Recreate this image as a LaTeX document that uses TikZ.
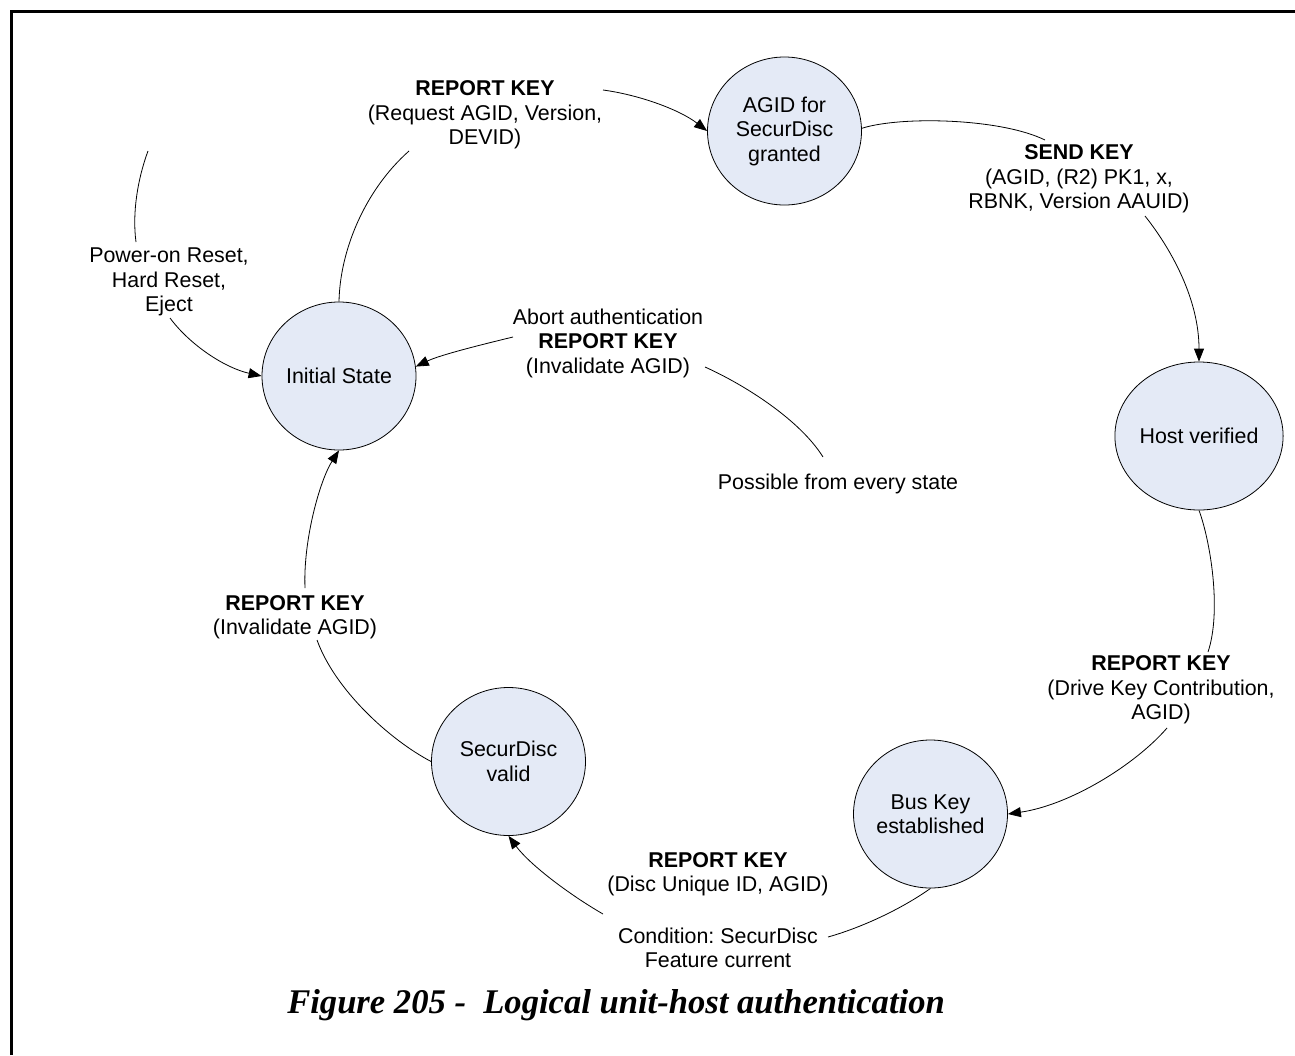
\documentclass[tikz,border=0pt]{standalone}
\usepackage{fontspec}
\setmainfont{Liberation Sans}
\newfontfamily\capfont{Liberation Serif}
\usetikzlibrary{arrows.meta,shapes.geometric}
\definecolor{statefill}{RGB}{228,234,246}
\newcommand\lblfont{\fontsize{21.4}{24.5}\selectfont}
\frenchspacing
\begin{document}
\begin{tikzpicture}[x=1pt,y=-1pt,
  stnode/.style={ellipse,draw=black,line width=0.8pt,fill=statefill,minimum width=154pt,minimum height=148pt,inner sep=0pt,align=center,font=\lblfont},
  lbl/.style={align=center,inner sep=0pt,font=\lblfont},
  conn/.style={line width=0.8pt,draw=black},
  arr/.style={conn,-{Triangle[length=13pt,width=10pt]}}]
\useasboundingbox (0,0) rectangle (1295,1055);
\fill[white] (0,0) rectangle (1295,1055);
\draw[line width=3pt] (11.5,1055) -- (11.5,11.5) -- (1295,11.5);

% states
\node[stnode] (init)  at (339,376)   {Initial State};
\node[stnode] (agid)  at (784.5,131) {AGID for\\SecurDisc\\granted};
\node[stnode] (host)  at (1199,436)  {Host verified};
\node[stnode] (bus)   at (930.5,814) {Bus Key\\established};
\node[stnode] (valid) at (508.5,761.5) {SecurDisc\\valid};

% labels
\node[lbl] (l1) at (485,115) {\textbf{REPORT KEY}\\(Request AGID, Version,\\DEVID)};
\node[lbl] (l2) at (1079,179) {\textbf{SEND KEY}\\(AGID, (R2) PK1, x,\\RBNK, Version AAUID)};
\node[lbl] (l3) at (169,282) {Power-on Reset,\\Hard Reset,\\Eject};
\node[lbl] (l4) at (608,343) {Abort authentication\\\textbf{REPORT KEY}\\(Invalidate AGID)};
\node[lbl] (l5) at (838,484) {Possible from every state};
\node[lbl] (l6) at (1161,690) {\textbf{REPORT KEY}\\(Drive Key Contribution,\\AGID)};
\node[lbl] (l7) at (295,617) {\textbf{REPORT KEY}\\(Invalidate AGID)};
\node[lbl] (l8) at (718,874) {\textbf{REPORT KEY}\\(Disc Unique ID, AGID)};
\node[lbl] (l9) at (718,948) {Condition: SecurDisc\\Feature current};
\node[anchor=base,inner sep=0pt,font=\capfont\bfseries\itshape\fontsize{34.6}{40}\selectfont] (cap) at (616,1013) {Figure 205 -\ \ Logical unit-host authentication};

% free connector ends
\coordinate (p1a) at (148,151);
\coordinate (p1b) at (136,242);
\coordinate (e1)  at (170,318);
\coordinate (rk1) at (409,151);
\coordinate (rk2) at (603,90);
\coordinate (sk1) at (1045,140);
\coordinate (sk2) at (1145,216);
\coordinate (dk1) at (1208,652);
\coordinate (dk2) at (1167,728);
\coordinate (cd1) at (828,937);
\coordinate (cd2) at (603,914);
\coordinate (ia1) at (317,640);
\coordinate (ia2) at (305,588);
\coordinate (ab1) at (705,367);
\coordinate (ab2) at (823,457);
\coordinate (ab3) at (513,337);

% connectors
\draw[conn] (p1a) .. controls (138,178) and (132,212) .. (p1b);
\draw[arr] (e1) .. controls (190,345) and (225,368) .. (init.180);
\draw[conn] (init.90) .. controls (340,250) and (365,190) .. (rk1);
\draw[arr] (rk2) .. controls (640,95) and (680,110) .. (agid.180);
\draw[conn] (agid.2) .. controls (900,116) and (1000,118) .. (sk1);
\draw[arr] (sk2) .. controls (1172,250) and (1199,300) .. (host.90);
\draw[conn] (host.270) .. controls (1210,540) and (1222,610) .. (dk1);
\draw[arr] (dk2) .. controls (1135,765) and (1070,805) .. (bus.0);
\draw[conn] (bus.270) .. controls (900,910) and (860,928) .. (cd1);
\draw[arr] (cd2) .. controls (570,895) and (530,865) .. (valid.270);
\draw[conn] (valid.180) .. controls (390,740) and (335,690) .. (ia1);
\draw[arr] (ia2) .. controls (303,540) and (320,480) .. (init.270);
\draw[conn] (ab1) .. controls (745,385) and (800,420) .. (ab2);
\draw[arr] (ab3) .. controls (480,345) and (440,355) .. (init.7);
\end{tikzpicture}
\end{document}
